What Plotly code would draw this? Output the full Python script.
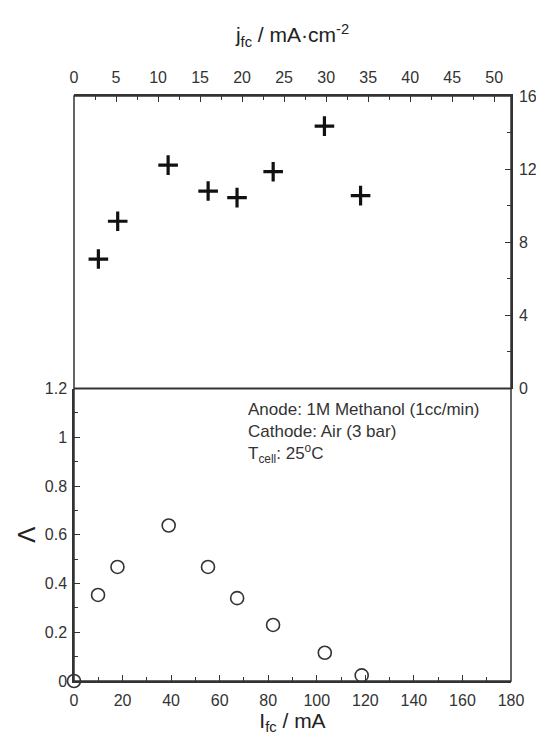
import plotly.graph_objects as go

# Data
I_fc = [0, 9.9, 17.9, 39.0, 55.2, 67.2, 82.0, 103.3, 118.5]          # mA
lam = [0.0, 0.353, 0.468, 0.638, 0.468, 0.340, 0.230, 0.116, 0.023]   # Λ

j_fc = [2.9, 5.2, 11.2, 15.96, 19.4, 23.7, 29.8, 34.1]                # mA cm^-2
top_vals = [7.08, 9.15, 12.22, 10.8, 10.44, 11.86, 14.35, 10.55]

x_ticks = [0, 20, 40, 60, 80, 100, 120, 140, 160, 180]
lam_ticks = [0, 0.2, 0.4, 0.6, 0.8, 1.0, 1.2]
lam_ticktext = ["0", "0.2", "0.4", "0.6", "0.8", "1", "1.2"]
j_ticks = [0, 5, 10, 15, 20, 25, 30, 35, 40, 45, 50]
top_ticks = [0, 4, 8, 12, 16]

FONT = "Arial, Liberation Sans, sans-serif"
LINE = "#333333"

fig = go.Figure()

fig.add_trace(go.Scatter(
    x=I_fc, y=lam, mode="markers", xaxis="x", yaxis="y",
    marker=dict(symbol="circle-open", size=13, color=LINE, line=dict(width=1.6, color=LINE)),
    showlegend=False, cliponaxis=False))

fig.add_trace(go.Scatter(
    x=j_fc, y=top_vals, mode="markers", xaxis="x2", yaxis="y2",
    marker=dict(symbol="cross-thin", size=14, color="#111111", line=dict(width=3.2, color="#111111")),
    showlegend=False, cliponaxis=False))

tickfont = dict(family=FONT, size=16, color="#333333")
common = dict(ticklen=6, tickwidth=1.2, tickcolor=LINE, showline=True, linecolor=LINE,
              linewidth=1.5, showgrid=False, zeroline=False, tickfont=tickfont, automargin=False)

fig.update_layout(
    width=544, height=736,
    # the page body adds an 8 px offset; margins compensate so the frame sits at x 74-511, y 96-681
    margin=dict(l=66, r=41, t=88, b=63),
    paper_bgcolor="white", plot_bgcolor="white",
    font=dict(family=FONT, color="#333333"),
    xaxis=dict(
        domain=[0, 1], anchor="y", side="bottom", range=[0, 180],
        tickmode="array", tickvals=x_ticks, ticks="inside",
        minor=dict(ticks="inside", dtick=10, ticklen=4, tickwidth=1.2, tickcolor=LINE, showgrid=False),
        title=dict(text="I<sub>fc</sub> / mA", font=dict(family=FONT, size=21, color="#222222"), standoff=3),
        ticklabelstandoff=4,
        **common,
    ),
    yaxis=dict(
        domain=[0, 0.5], anchor="x", side="left", range=[0, 1.2],
        tickmode="array", tickvals=lam_ticks, ticktext=lam_ticktext, ticks="inside",
        minor=dict(ticks="inside", dtick=0.1, ticklen=4, tickwidth=1.2, tickcolor=LINE, showgrid=False),
        title=dict(text="Λ", font=dict(family=FONT, size=24, color="#222222"), standoff=2),
        ticklabelstandoff=2,
        **common,
    ),
    xaxis2=dict(
        domain=[0, 1], anchor="y2", side="top", range=[0, 52],
        tickmode="array", tickvals=j_ticks, ticks="inside",
        minor=dict(ticks="inside", dtick=2.5, ticklen=4, tickwidth=1.2, tickcolor=LINE, showgrid=False),
        title=dict(text="j<sub>fc</sub> / mA·cm<sup>-2</sup>", font=dict(family=FONT, size=21, color="#222222"), standoff=20),
        ticklabelstandoff=5,
        **common,
    ),
    yaxis2=dict(
        domain=[0.5, 1], anchor="x2", side="right", range=[0, 16],
        tickmode="array", tickvals=top_ticks, ticks="inside",
        minor=dict(ticks="inside", dtick=2, ticklen=4, tickwidth=1.2, tickcolor=LINE, showgrid=False),
        ticklabelstandoff=3,
        **common,
    ),
    shapes=[
        dict(type="rect", xref="paper", yref="paper", x0=0, x1=1, y0=0, y1=1,
             line=dict(color=LINE, width=1.5), layer="above"),
        dict(type="line", xref="paper", yref="paper", x0=0, x1=1, y0=0.5, y1=0.5,
             line=dict(color=LINE, width=1.8), layer="above"),
    ],
    annotations=[
        dict(xref="paper", yref="paper", x=0.393, y=0.484, xanchor="left", yanchor="top",
             showarrow=False, align="left",
             text="Anode: 1M Methanol (1cc/min)<br>Cathode: Air (3 bar)<br>T<sub>cell</sub>: 25<sup>o</sup>C",
             font=dict(family=FONT, size=17, color="#333333")),
    ],
)

fig.write_html("out.html")
